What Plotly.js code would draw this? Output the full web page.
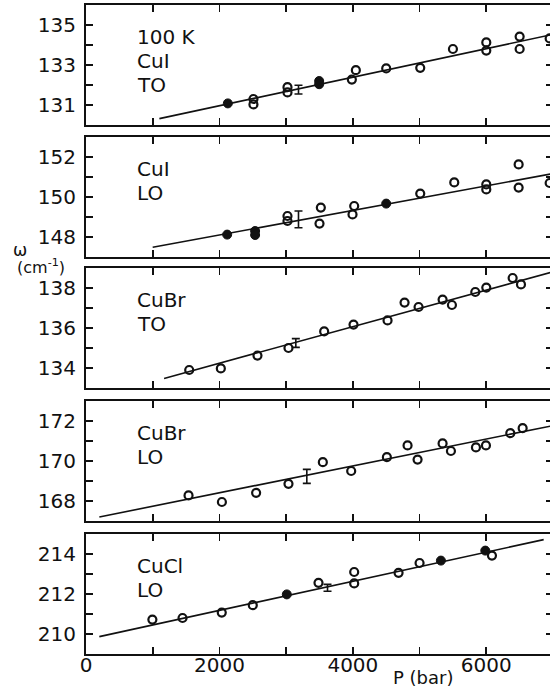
<!DOCTYPE html>
<html>
<head>
<meta charset="utf-8">
<script src="https://cdn.plot.ly/plotly-3.0.1.min.js"></script>
<style>
html, body { margin: 0; padding: 0; overflow: hidden; background: #fff; }
#chart { width: 553px; height: 690px; }
</style>
</head>
<body>
<div id="chart"></div>
<script>
// ---------- Data (pressure in bar, frequency in cm^-1) ----------
// Panel 1: 100 K CuI TO
const cuiTO_P = [2510, 2510, 3020, 3020, 3985, 4045, 4500, 5010, 5500, 6000, 6000, 6500, 6500, 6950];
const cuiTO_W = [131.30, 131.03, 131.89, 131.63, 132.27, 132.74, 132.83, 132.86, 133.80, 134.13, 133.72, 134.42, 133.80, 134.33];
const cuiTO_fillP = [2126, 3495, 3495];
const cuiTO_fillW = [131.08, 132.20, 132.04];
const cuiTO_errP = [3185];
const cuiTO_errW = [131.77];
const cuiTO_err = [0.22];
const cuiTO_fitP = [1100, 7000];
const cuiTO_fitW = [130.32, 134.53];

// Panel 2: CuI LO
const cuiLO_P = [3020, 3020, 3520, 3500, 4020, 3995, 5010, 5520, 6000, 6000, 6485, 6485, 6950];
const cuiLO_W = [149.05, 148.80, 149.47, 148.67, 149.55, 149.13, 150.17, 150.73, 150.63, 150.38, 151.63, 150.47, 150.70];
const cuiLO_fillP = [2116, 2535, 2535, 4500];
const cuiLO_fillW = [148.12, 148.30, 148.10, 149.67];
const cuiLO_errP = [3185];
const cuiLO_errW = [148.88];
const cuiLO_err = [0.42];
const cuiLO_fitP = [1000, 7000];
const cuiLO_fitW = [147.49, 151.17];

// Panel 3: CuBr TO
const cubrTO_P = [1547, 2021, 2570, 3035, 3570, 4010, 4520, 4775, 4985, 5345, 5485, 5835, 6000, 6395, 6520];
const cubrTO_W = [133.90, 133.98, 134.62, 135.00, 135.83, 136.17, 136.38, 137.27, 137.05, 137.42, 137.15, 137.80, 138.02, 138.50, 138.18];
const cubrTO_fillP = [];
const cubrTO_fillW = [];
const cubrTO_errP = [3145];
const cubrTO_errW = [135.25];
const cubrTO_err = [0.22];
const cubrTO_fitP = [1170, 7000];
const cubrTO_fitW = [133.48, 138.81];

// Panel 4: CuBr LO
const cubrLO_P = [1537, 2037, 2550, 3035, 3550, 3975, 4510, 4820, 4970, 5345, 5470, 5845, 5995, 6360, 6545];
const cubrLO_W = [168.28, 167.95, 168.41, 168.86, 169.94, 169.50, 170.19, 170.78, 170.07, 170.88, 170.50, 170.68, 170.78, 171.39, 171.64];
const cubrLO_fillP = [];
const cubrLO_fillW = [];
const cubrLO_errP = [3310];
const cubrLO_errW = [169.23];
const cubrLO_err = [0.35];
const cubrLO_fitP = [200, 7000];
const cubrLO_fitW = [167.20, 171.77];

// Panel 5: CuCl LO
const cuclLO_P = [995, 1447, 2035, 2500, 3485, 4020, 4020, 4685, 5000, 6085];
const cuclLO_W = [210.72, 210.80, 211.07, 211.44, 212.56, 213.10, 212.53, 213.06, 213.55, 213.92];
const cuclLO_fillP = [3010, 5320, 5985];
const cuclLO_fillW = [211.98, 213.67, 214.17];
const cuclLO_errP = [3620];
const cuclLO_errW = [212.31];
const cuclLO_err = [0.17];
const cuclLO_fitP = [200, 6860];
const cuclLO_fitW = [209.87, 214.72];

// Panel labels (one entry per text line)
const panelLabels = [["100 K", "CuI", "TO"], ["CuI", "LO"], ["CuBr", "TO"], ["CuBr", "LO"], ["CuCl", "LO"]];

// Axis ranges and tick labels
const yRanges = [[130, 136], [147, 153], [133, 139], [167, 173], [209, 215]];
const yTickVals = [
  [131, 132, 133, 134, 135],
  [148, 149, 150, 151, 152],
  [134, 135, 136, 137, 138],
  [168, 169, 170, 171, 172],
  [210, 211, 212, 213, 214]
];
const yTickText = [
  ["131", " ", "133", " ", "135"],
  ["148", " ", "150", " ", "152"],
  ["134", " ", "136", " ", "138"],
  ["168", " ", "170", " ", "172"],
  ["210", " ", "212", " ", "214"]
];
const xTickVals = [0, 1000, 2000, 3000, 4000, 5000, 6000, 7000];
const xTickText = ["0", " ", "2000", " ", "4000", " ", "6000", " "];
const xTitle = "P (bar)";
const yTitleSymbol = "ω";
const yTitleUnit = "(cm<sup>-1</sup>)";

// ---------- Build figure ----------
const panels = [
  {P: cuiTO_P, W: cuiTO_W, fP: cuiTO_fillP, fW: cuiTO_fillW, eP: cuiTO_errP, eW: cuiTO_errW, e: cuiTO_err, lP: cuiTO_fitP, lW: cuiTO_fitW},
  {P: cuiLO_P, W: cuiLO_W, fP: cuiLO_fillP, fW: cuiLO_fillW, eP: cuiLO_errP, eW: cuiLO_errW, e: cuiLO_err, lP: cuiLO_fitP, lW: cuiLO_fitW},
  {P: cubrTO_P, W: cubrTO_W, fP: cubrTO_fillP, fW: cubrTO_fillW, eP: cubrTO_errP, eW: cubrTO_errW, e: cubrTO_err, lP: cubrTO_fitP, lW: cubrTO_fitW},
  {P: cubrLO_P, W: cubrLO_W, fP: cubrLO_fillP, fW: cubrLO_fillW, eP: cubrLO_errP, eW: cubrLO_errW, e: cubrLO_err, lP: cubrLO_fitP, lW: cubrLO_fitW},
  {P: cuclLO_P, W: cuclLO_W, fP: cuclLO_fillP, fW: cuclLO_fillW, eP: cuclLO_errP, eW: cuclLO_errW, e: cuclLO_err, lP: cuclLO_fitP, lW: cuclLO_fitW}
];

// Pixel layout: plot area from y=5 to y=654, panels 120 px tall
const plotTop = 5, plotBottom = 654, plotH = plotBottom - plotTop;
const panelPix = [[5, 125], [137, 257], [268, 388], [401, 521], [534, 654]];
const toPaper = (py) => 1 - (py - plotTop) / plotH;

const ink = "#111";
const fontFam = "DejaVu Sans, Liberation Sans, sans-serif";
const traces = [];
const layout = {
  width: 553,
  height: 690,
  margin: {l: 86, r: 0, t: plotTop, b: 690 - plotBottom},
  paper_bgcolor: "#fff",
  plot_bgcolor: "#fff",
  showlegend: false,
  font: {family: fontFam, color: ink, size: 20},
  annotations: []
};

panels.forEach((p, i) => {
  const n = i + 1;
  const xa = n === 1 ? "x" : "x" + n;
  const ya = n === 1 ? "y" : "y" + n;
  traces.push({x: p.lP, y: p.lW, xaxis: xa, yaxis: ya, mode: "lines", type: "scatter",
    line: {color: ink, width: 1.6}, hoverinfo: "skip"});
  traces.push({x: p.P, y: p.W, xaxis: xa, yaxis: ya, mode: "markers", type: "scatter",
    marker: {symbol: "circle-open", size: 8, color: ink, line: {width: 2.2, color: ink}}});
  if (p.fP.length) {
    traces.push({x: p.fP, y: p.fW, xaxis: xa, yaxis: ya, mode: "markers", type: "scatter",
      marker: {symbol: "circle", size: 9, color: ink, line: {width: 1, color: ink}}});
  }
  traces.push({x: p.eP, y: p.eW, xaxis: xa, yaxis: ya, mode: "markers", type: "scatter",
    marker: {size: 1, color: "rgba(0,0,0,0)"},
    error_y: {type: "data", array: p.e, visible: true, color: ink, thickness: 1.6, width: 4}});

  const [pt, pb] = panelPix[i];
  const yDom = [toPaper(pb), toPaper(pt)];
  layout["xaxis" + (n === 1 ? "" : n)] = {
    anchor: ya,
    domain: [0, 1],
    range: [0, 7000],
    tickvals: xTickVals,
    ticktext: n === 5 ? xTickText : xTickVals.map(() => " "),
    ticks: "inside",
    ticklen: 7,
    tickwidth: 1.6,
    tickcolor: ink,
    showline: true,
    linecolor: ink,
    linewidth: 2,
    mirror: "ticks",
    showgrid: false,
    zeroline: false,
    fixedrange: true,
    tickfont: {family: fontFam, size: 20, color: ink},
    ticklabelstandoff: n === 5 ? -8 : 0
  };
  if (n !== 1) layout["xaxis" + n].matches = "x";
  layout["yaxis" + (n === 1 ? "" : n)] = {
    anchor: xa,
    domain: yDom,
    range: yRanges[i],
    tickvals: yTickVals[i],
    ticktext: yTickText[i],
    ticks: "inside",
    ticklen: 7,
    tickwidth: 1.6,
    tickcolor: ink,
    showline: true,
    linecolor: ink,
    linewidth: 2,
    mirror: "ticks",
    showgrid: false,
    zeroline: false,
    fixedrange: true,
    tickfont: {family: fontFam, size: 20, color: ink},
    ticklabelstandoff: 4
  };
  panelLabels[i].forEach((line, k) => {
    layout.annotations.push({
      text: line,
      xref: xa + " domain", yref: ya + " domain",
      x: 0.105, y: 1 - (32 + 24 * k) / 120,
      xanchor: "left", yanchor: "middle", align: "left",
      showarrow: false,
      font: {family: fontFam, size: 20, color: ink}
    });
  });
});

// Axis titles as annotations
layout.annotations.push({
  text: xTitle, xref: "paper", yref: "paper",
  x: (423 - 86) / 467, y: (plotBottom - 677) / plotH,
  xanchor: "center", yanchor: "middle", showarrow: false,
  font: {family: fontFam, size: 18, color: ink}
});
layout.annotations.push({
  text: yTitleSymbol, xref: "paper", yref: "paper",
  x: (20 - 86) / 467, y: (plotBottom - 250) / plotH,
  xanchor: "center", yanchor: "middle", showarrow: false,
  font: {family: fontFam, size: 17, color: ink}
});
layout.annotations.push({
  text: yTitleUnit, xref: "paper", yref: "paper",
  x: (41 - 86) / 467, y: (plotBottom - 267) / plotH,
  xanchor: "center", yanchor: "middle", showarrow: false,
  font: {family: fontFam, size: 16, color: ink}
});

Plotly.newPlot("chart", traces, layout, {displayModeBar: false, staticPlot: true});
</script>
</body>
</html>
